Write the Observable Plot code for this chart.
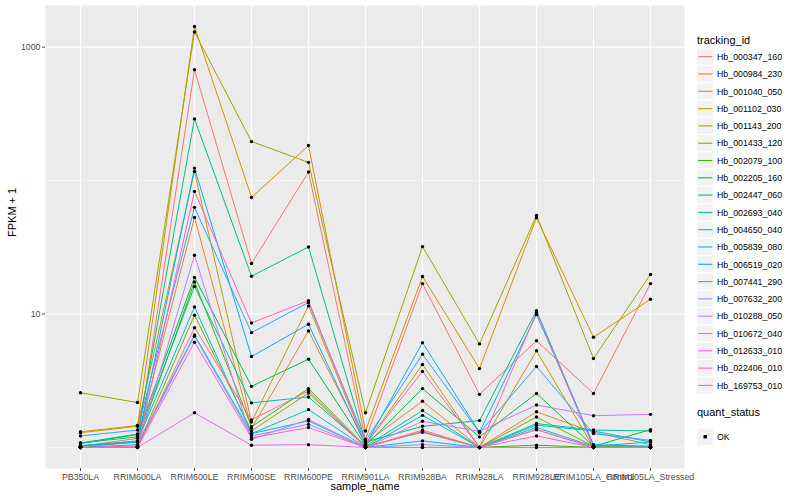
<!DOCTYPE html>
<html><head><meta charset="utf-8">
<script src="https://cdn.jsdelivr.net/npm/d3@7"></script>
<script src="https://cdn.jsdelivr.net/npm/@observablehq/plot@0.6"></script>
<style>
body{margin:0;background:#fff;font-family:"Liberation Sans",Arial,sans-serif;}
#wrap{position:relative;width:800px;height:500px;overflow:hidden;}
#legend{position:absolute;left:690px;top:0;}
</style></head><body><div id="wrap"></div>
<script>
const samples = ["PB350LA","RRIM600LA","RRIM600LE","RRIM600SE","RRIM600PE","RRIM901LA","RRIM928BA","RRIM928LA","RRIM928LE","RRIM105LA_Control","RRIM105LA_Stressed"];
const trackingIds = ["Hb_000347_160","Hb_000984_230","Hb_001040_050","Hb_001102_030","Hb_001143_200","Hb_001433_120","Hb_002079_100","Hb_002205_160","Hb_002447_060","Hb_002693_040","Hb_004650_040","Hb_005839_080","Hb_006519_020","Hb_007441_290","Hb_007632_200","Hb_010288_050","Hb_010672_040","Hb_012633_010","Hb_022406_010","Hb_169753_010"];
const palette = ["#F8766D","#EA8331","#D89000","#C09B00","#A3A500","#7CAE00","#39B600","#00BB4E","#00BF7D","#00C1A3","#00BFC4","#00BAE0","#00B0F6","#35A2FF","#9590FF","#C77CFF","#E76BF3","#FA62DB","#FF62BC","#FF6C91"];
// FPKM + 1, one row per tracking id, one column per sample
const fpkmPlusOne = [
  [1.0, 1.1, 677, 23.9, 116, 1.15, 16.9, 2.5, 6.3, 2.54, 16.9],
  [1.02, 1.17, 53, 1.39, 7.46, 1.08, 2.22, 1.0, 1.85, 1.3, 1.05],
  [1.31, 1.46, 1427, 74.7, 183, 1.33, 19.1, 3.9, 52.7, 6.7, 12.9],
  [1.29, 1.44, 117, 1.55, 11.5, 1.05, 4.19, 1.0, 5.3, 1.0, 1.0],
  [2.57, 2.17, 1300, 196, 137, 1.82, 32, 5.97, 54.8, 4.64, 19.8],
  [1.0, 1.02, 9.8, 1.33, 2.56, 1.0, 1.0, 1.0, 1.69, 1.02, 1.0],
  [1.03, 1.1, 17.4, 1.43, 2.76, 1.02, 1.3, 1.0, 1.04, 1.0, 1.0],
  [1.07, 1.25, 18.8, 2.87, 4.59, 1.03, 2.76, 1.2, 2.54, 1.02, 1.36],
  [1.08, 1.26, 290, 19.2, 31.8, 1.1, 1.44, 1.59, 10.6, 1.03, 1.02],
  [1.08, 1.2, 16.1, 2.16, 2.39, 1.02, 1.89, 1.0, 1.51, 1.35, 1.33],
  [1.03, 1.12, 11.3, 1.27, 1.92, 1.0, 1.74, 1.0, 1.47, 1.33, 1.1],
  [1.0, 1.05, 6.97, 1.27, 1.58, 1.0, 1.12, 1.0, 1.41, 1.02, 1.1],
  [1.02, 1.1, 124, 4.8, 8.38, 1.04, 6.1, 1.3, 9.9, 1.05, 1.02],
  [1.22, 1.35, 63, 7.25, 12.2, 1.12, 5.0, 1.29, 4.04, 1.27, 1.13],
  [1.0, 1.02, 6.82, 1.22, 1.49, 1.0, 1.05, 1.0, 1.36, 1.0, 1.0],
  [1.0, 1.0, 27.6, 1.15, 1.62, 1.0, 1.57, 1.32, 2.08, 1.73, 1.77],
  [1.0, 1.0, 1.82, 1.04, 1.05, 1.0, 1.0, 1.0, 1.0, 1.0, 1.0],
  [1.0, 1.0, 6.15, 1.18, 1.41, 1.0, 1.32, 1.0, 1.22, 1.0, 1.0],
  [1.0, 1.02, 83, 8.57, 12.6, 1.06, 3.71, 1.0, 10.3, 1.0, 1.0],
  [1.0, 1.0, 7.9, 1.61, 2.65, 1.0, 1.35, 1.0, 1.36, 1.0, 1.0]
];
const majorY = [10, 1000];
const minorY = [1, 100];
const quantStatus = ["OK"];

const data = trackingIds.flatMap((id, i) => samples.map((s, j) => ({id, sample: s, value: fpkmPlusOne[i][j]})));
const [lo, hi] = d3.extent(data, d => d.value);
const llo = Math.log10(lo), lhi = Math.log10(hi), pad = (lhi - llo) * 0.05;
const yDomain = [10 ** (llo - pad), 10 ** (lhi + pad)];

const font = "Liberation Sans, Arial, Helvetica, sans-serif";
const chart = Plot.plot({
  width: 800, height: 500,
  marginLeft: 45, marginRight: 116, marginTop: 5, marginBottom: 32,
  style: {fontFamily: font, fontSize: "8.8px", color: "#4D4D4D", background: "white"},
  x: {type: "point", domain: samples, padding: 0.6, label: null},
  y: {type: "log", domain: yDomain, label: null},
  color: {domain: trackingIds, range: palette},
  marks: [
    Plot.frame({fill: "#EBEBEB", stroke: null}),
    Plot.ruleY(minorY, {stroke: "white", strokeWidth: 0.6}),
    Plot.ruleY(majorY, {stroke: "white", strokeWidth: 1.2}),
    Plot.ruleX(samples, {stroke: "white", strokeWidth: 1.2}),
    Plot.line(data, {x: "sample", y: "value", z: "id", stroke: "id", strokeWidth: 1}),
    Plot.dot(data, {x: "sample", y: "value", fill: "black", r: 1.7}),
    Plot.axisY({ticks: majorY, tickFormat: d => String(d), tickSize: 3, tickPadding: 2, label: null}),
    Plot.axisX({tickSize: 3, tickPadding: 2, label: null}),
    Plot.text(["FPKM + 1"], {frameAnchor: "left", dx: -33, rotate: -90, fontSize: 11, fill: "black"}),
    Plot.text(["sample_name"], {frameAnchor: "bottom", dy: 21.5, fontSize: 11, fill: "black"})
  ]
});
const wrap = document.getElementById("wrap");
wrap.appendChild(chart);

// legend
const leg = d3.select(wrap).append("svg").attr("id", "legend").attr("width", 110).attr("height", 500)
  .style("font-family", font);
leg.append("text").attr("x", 7).attr("y", 44).attr("font-size", 11).attr("fill", "black").text("tracking_id");
const step = 17.3, y0 = 56.7;
trackingIds.forEach((id, i) => {
  const cy = y0 + step * i;
  leg.append("rect").attr("x", 6.5).attr("y", cy - step / 2).attr("width", 17).attr("height", step)
    .attr("fill", "#F2F2F2").attr("stroke", "white").attr("stroke-width", 1);
  leg.append("line").attr("x1", 8.2).attr("x2", 22.3).attr("y1", cy).attr("y2", cy)
    .attr("stroke", palette[i]).attr("stroke-width", 1.1);
  leg.append("text").attr("x", 27).attr("y", cy + 3.2).attr("font-size", 8.8).attr("fill", "black").text(id);
});
leg.append("text").attr("x", 7).attr("y", 415.5).attr("font-size", 11).attr("fill", "black").text("quant_status");
quantStatus.forEach((q, i) => {
  const cy = 436.7 + step * i;
  leg.append("rect").attr("x", 6.5).attr("y", cy - step / 2).attr("width", 17).attr("height", step)
    .attr("fill", "#F2F2F2").attr("stroke", "white");
  leg.append("rect").attr("x", 13.5).attr("y", cy - 1.7).attr("width", 3.4).attr("height", 3.4).attr("fill", "black");
  leg.append("text").attr("x", 27).attr("y", cy + 3.2).attr("font-size", 8.8).attr("fill", "black").text(q);
});
</script></body></html>
